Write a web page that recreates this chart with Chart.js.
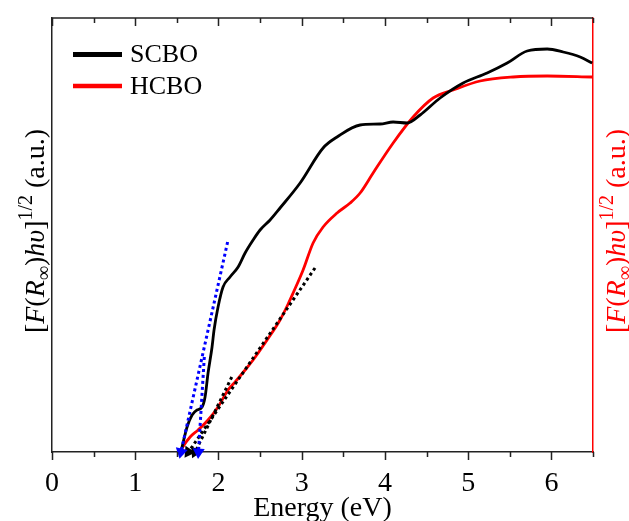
<!DOCTYPE html>
<html lang="en">
<head>
    <meta charset="UTF-8">
    <title>SCBO / HCBO Tauc plot</title>
    <script src="https://cdn.jsdelivr.net/npm/chart.js"></script>
    <style>
        html, body {
            margin: 0;
            padding: 0;
            background: white;
        }
        .chart-container {
            width: 629px;
            height: 521px;
        }
    </style>
</head>
<body>
    <div class="chart-container">
        <canvas id="taucChart"></canvas>
    </div>

    <script>
        // SCBO curve (black)
        const scboEnergy = [1.55, 1.563, 1.623, 1.683, 1.743, 1.803, 1.839, 1.875, 1.923, 1.947, 1.995, 2.055,
            2.139, 2.236, 2.32, 2.416, 2.5, 2.62, 2.74, 2.981, 3.257, 3.425, 3.702, 3.942, 4.099, 4.267,
            4.423, 4.663, 4.94, 5.228, 5.469, 5.709, 5.95, 6.142, 6.346, 6.49];
        const scboValues = [0, 5, 25, 37, 42, 45, 55, 79, 105, 122, 145, 165,
            175, 185, 199, 212, 222, 232, 244, 269, 304, 315, 327, 328, 330, 329,
            337, 354, 369, 379, 389, 401, 403, 400, 395, 389];

        // HCBO curve (red)
        const hcboEnergy = [1.538, 1.563, 1.659, 1.755, 1.875, 1.995, 2.115, 2.2, 2.32, 2.416, 2.584, 2.74,
            2.837, 2.897, 3.017, 3.137, 3.257, 3.425, 3.582, 3.702, 3.858, 4.099, 4.339, 4.579, 4.82,
            5.144, 5.541, 5.95, 6.49];
        const hcboValues = [0, 4, 15, 22, 32, 45, 62, 70, 82, 92, 112, 132,
            148, 159, 182, 209, 225, 239, 249, 259, 279, 309, 335, 354, 362,
            371, 375, 376, 375];

        // Tangent (extrapolation) lines: [top, bottom]
        const blueLongE = [2.11, 1.55];
        const blueLongY = [210, 0];
        const blueShortE = [1.83, 1.76];
        const blueShortY = [95, 0];
        const blackLongE = [3.16, 1.64];
        const blackLongY = [184, 0];
        const blackShortE = [2.16, 1.72];
        const blackShortY = [75, 0];

        const xTicks = [0, 1, 2, 3, 4, 5, 6];
        const yMax = 434;

        const serif = "'Liberation Serif', 'Times New Roman', serif";

        function toPoints(xs, ys) {
            return xs.map((x, i) => ({ x: x, y: ys[i] }));
        }

        // arrow head rotation follows the line direction in pixels
        function arrowRotation(ctx) {
            const d = ctx.dataset.data;
            const sx = ctx.chart.scales.x;
            const sy = ctx.chart.scales.y;
            const dx = sx.getPixelForValue(d[1].x) - sx.getPixelForValue(d[0].x);
            const dy = sy.getPixelForValue(d[1].y) - sy.getPixelForValue(d[0].y);
            return Math.atan2(dx, -dy) * 180 / Math.PI;
        }

        function tangent(label, xs, ys, color) {
            return {
                label: label,
                data: toPoints(xs, ys),
                borderColor: color,
                backgroundColor: color,
                borderWidth: 3,
                borderDash: [3, 3],
                borderCapStyle: 'butt',
                pointStyle: 'triangle',
                pointRadius: [0, 7],
                pointBorderWidth: 0,
                pointRotation: arrowRotation,
                tension: 0,
                order: 1,
                clip: false
            };
        }

        // ticks mirrored on the top frame, minor ticks every 0.5
        const frameTicks = {
            id: 'frameTicks',
            afterDraw(chart) {
                const c = chart.ctx;
                const area = chart.chartArea;
                const sx = chart.scales.x;
                c.save();
                c.strokeStyle = '#222';
                c.lineWidth = 1.5;
                c.beginPath();
                c.moveTo(area.left, area.top);
                c.lineTo(area.right, area.top);
                c.stroke();
                for (let v = 0; v <= 6.5; v += 0.5) {
                    const px = Math.round(sx.getPixelForValue(v)) + 0.5;
                    const major = Number.isInteger(v);
                    const len = major ? 8 : 5;
                    c.beginPath();
                    c.moveTo(px, area.bottom);
                    c.lineTo(px, area.bottom + len);
                    c.moveTo(px, area.top);
                    c.lineTo(px, area.top + len);
                    c.stroke();
                }
                c.restore();
            }
        };

        // legend and the y titles with italic / sub / superscript parts
        const annotations = {
            id: 'annotations',
            afterDraw(chart) {
                const c = chart.ctx;
                const area = chart.chartArea;
                c.save();

                const legendItems = [
                    { text: 'SCBO', color: '#000000', width: 5, dy: 36.5 },
                    { text: 'HCBO', color: '#ff0000', width: 4.5, dy: 68 }
                ];
                legendItems.forEach(item => {
                    const y = area.top + item.dy;
                    c.strokeStyle = item.color;
                    c.lineWidth = item.width;
                    c.beginPath();
                    c.moveTo(area.left + 21, y);
                    c.lineTo(area.left + 70, y);
                    c.stroke();
                    c.fillStyle = '#000';
                    c.font = '26px ' + serif;
                    c.textBaseline = 'middle';
                    c.textAlign = 'left';
                    c.fillText(item.text, area.left + 78, y + 1);
                });

                const size = 28;
                const parts = [
                    { t: '[', s: 'normal', k: 1, o: 0 },
                    { t: 'F', s: 'italic', k: 1, o: 0 },
                    { t: '(', s: 'normal', k: 1, o: 0 },
                    { t: 'R', s: 'italic', k: 1, o: 0 },
                    { t: '\u221E', s: 'normal', k: 0.7, o: 0.22 },
                    { t: ')', s: 'normal', k: 1, o: 0 },
                    { t: 'h', s: 'italic', k: 1, o: 0 },
                    { t: '\u03C5', s: 'italic', k: 1, o: 0 },
                    { t: ']', s: 'normal', k: 1, o: 0 },
                    { t: '1/2', s: 'normal', k: 0.7, o: -0.42 },
                    { t: ' (a.u.)', s: 'normal', k: 1, o: 0 }
                ];
                const fontFor = p => p.s + ' ' + Math.round(size * p.k) + 'px ' + serif;
                let total = 0;
                parts.forEach(p => {
                    c.font = fontFor(p);
                    p.w = c.measureText(p.t).width;
                    total += p.w;
                });
                const cy = (area.top + area.bottom) / 2 - 4;
                const drawTitle = (x, color) => {
                    c.save();
                    c.translate(x, cy);
                    c.rotate(-Math.PI / 2);
                    c.fillStyle = color;
                    c.textAlign = 'left';
                    c.textBaseline = 'alphabetic';
                    let u = -total / 2;
                    parts.forEach(p => {
                        c.font = fontFor(p);
                        c.fillText(p.t, u, p.o * size);
                        u += p.w;
                    });
                    c.restore();
                };
                drawTitle(area.left - 8, '#000');
                drawTitle(area.right + 32, '#ff0000');
                c.restore();
            }
        };

        const ctx = document.getElementById('taucChart').getContext('2d');
        const chart = new Chart(ctx, {
            type: 'line',
            data: {
                datasets: [
                    {
                        label: 'SCBO',
                        data: toPoints(scboEnergy, scboValues),
                        borderColor: '#000000',
                        borderWidth: 2.8,
                        pointRadius: 0,
                        cubicInterpolationMode: 'monotone',
                        order: 2
                    },
                    {
                        label: 'HCBO',
                        data: toPoints(hcboEnergy, hcboValues),
                        borderColor: '#ff0000',
                        borderWidth: 2.8,
                        pointRadius: 0,
                        cubicInterpolationMode: 'monotone',
                        yAxisID: 'y2',
                        order: 2
                    },
                    tangent('blue long', blueLongE, blueLongY, '#0000ff'),
                    tangent('blue short', blueShortE, blueShortY, '#0000ff'),
                    tangent('black long', blackLongE, blackLongY, '#000000'),
                    tangent('black short', blackShortE, blackShortY, '#000000')
                ]
            },
            options: {
                responsive: true,
                maintainAspectRatio: false,
                animation: false,
                layout: {
                    padding: { top: 18, right: 0, left: 0, bottom: 0 }
                },
                scales: {
                    x: {
                        type: 'linear',
                        position: 'bottom',
                        min: 0,
                        max: 6.5,
                        afterFit: scale => { scale.height = 69; },
                        afterBuildTicks: scale => {
                            scale.ticks = xTicks.map(v => ({ value: v }));
                        },
                        grid: { display: false, drawTicks: false },
                        border: { color: '#222', width: 1.5 },
                        ticks: {
                            padding: 15,
                            color: '#000',
                            maxRotation: 0,
                            font: { family: serif, size: 28 }
                        },
                        title: {
                            display: true,
                            text: 'Energy (eV)',
                            color: '#000',
                            padding: { top: 0, bottom: -4 },
                            font: { family: serif, size: 28 }
                        }
                    },
                    y: {
                        position: 'left',
                        min: 0,
                        max: yMax,
                        afterFit: scale => { scale.width = 52; },
                        grid: { display: false, drawTicks: false },
                        border: { color: '#222', width: 1.5 },
                        ticks: { display: false }
                    },
                    y2: {
                        position: 'right',
                        min: 0,
                        max: yMax,
                        afterFit: scale => { scale.width = 36; },
                        grid: { display: false, drawTicks: false },
                        border: { color: '#ff0000', width: 1.5 },
                        ticks: { display: false }
                    }
                },
                plugins: {
                    legend: { display: false },
                    tooltip: { enabled: false }
                }
            },
            plugins: [frameTicks, annotations]
        });
    </script>
</body>
</html>
